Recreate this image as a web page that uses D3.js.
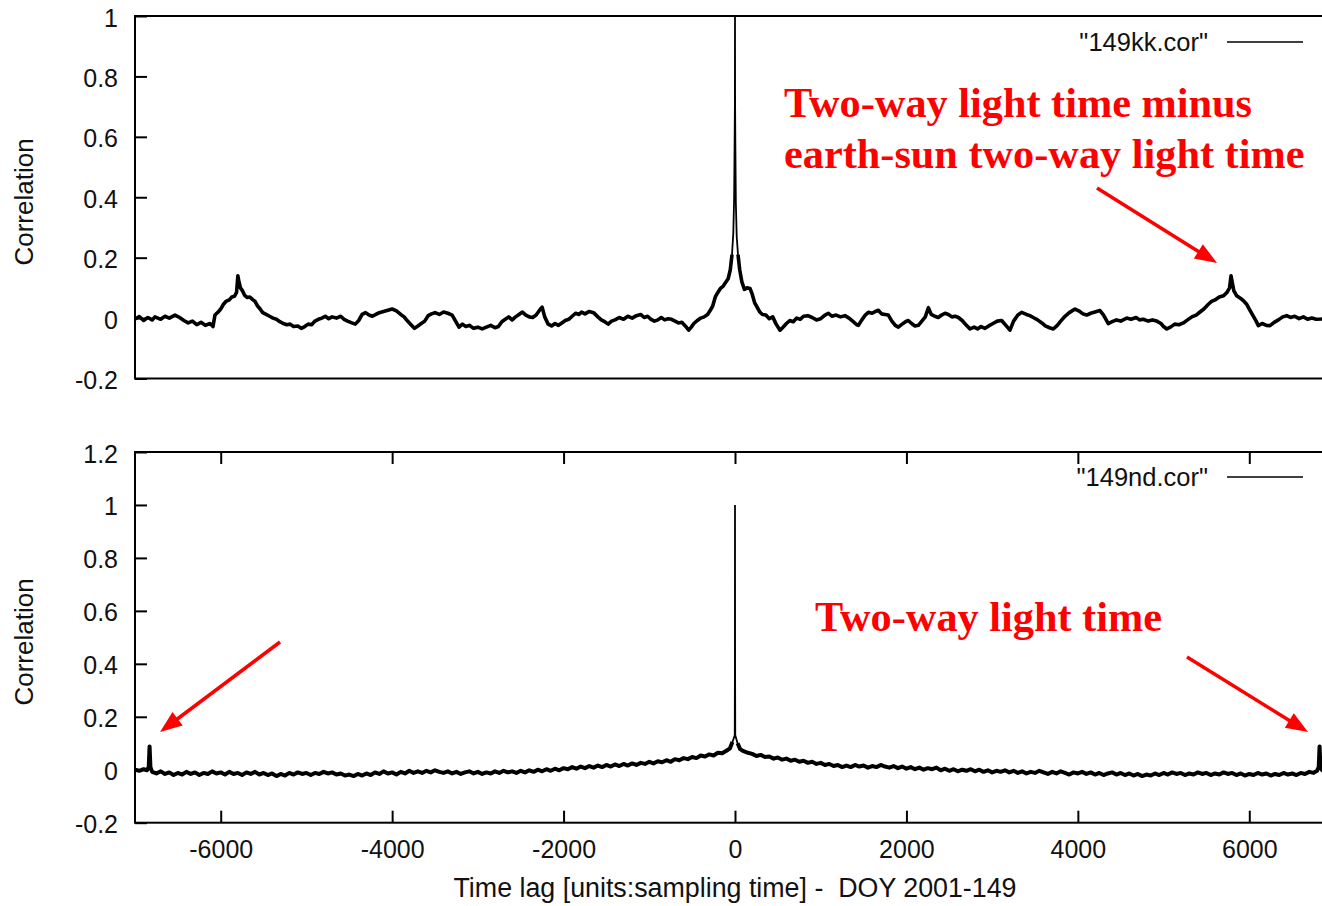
<!DOCTYPE html>
<html><head><meta charset="utf-8">
<script src="https://cdn.jsdelivr.net/npm/d3@7"></script>
<style>body{margin:0;background:#fff;overflow:hidden} svg{display:block}</style>
</head><body><svg id="c" width="1322" height="906"></svg>
<script>
// ---------- data ----------
const lagDomain = [-7000, 7000];
const xTicks = [-6000, -4000, -2000, 0, 2000, 4000, 6000];
const yTicksTop = [-0.2, 0, 0.2, 0.4, 0.6, 0.8, 1];
const yTicksBottom = [-0.2, 0, 0.2, 0.4, 0.6, 0.8, 1, 1.2];
const yDomainTop = [-0.2, 1];
const yDomainBottom = [-0.2, 1.2];
const legendLabels = ['"149kk.cor"', '"149nd.cor"'];
const yLabel = "Correlation";
const xLabel = "Time lag [units:sampling time] -  DOY 2001-149";
const noteTop = ["Two-way light time minus", "earth-sun two-way light time"];
const noteBottom = "Two-way light time";

// [lag, correlation] (149kk.cor)
const series149kk = [
[-7000,-0.003],[-6950,0.005],[-6900,-0.008],[-6850,0.002],[-6800,-0.006],[-6767,0.004],[-6700,-0.004],[-6650,0.006],
[-6600,0.0],[-6533,0.010],[-6480,0.002],[-6430,-0.008],[-6380,-0.016],[-6330,-0.010],[-6280,-0.022],[-6230,-0.014],
[-6180,-0.024],[-6125,-0.018],[-6090,-0.028],[-6067,0.010],[-6030,0.020],[-6000,0.030],[-5970,0.045],[-5940,0.055],
[-5900,0.060],[-5870,0.070],[-5840,0.072],[-5815,0.085],[-5800,0.140],[-5790,0.125],[-5770,0.100],[-5745,0.090],
[-5720,0.075],[-5690,0.068],[-5660,0.070],[-5630,0.062],[-5600,0.055],[-5570,0.040],[-5540,0.030],[-5510,0.018],
[-5470,0.012],[-5430,0.006],[-5390,0.0],[-5350,-0.004],[-5310,-0.012],[-5270,-0.018],[-5230,-0.022],[-5190,-0.020],
[-5150,-0.028],[-5100,-0.026],[-5060,-0.034],[-5020,-0.028],[-4980,-0.020],[-4940,-0.022],[-4900,-0.010],[-4860,-0.004],
[-4820,0.000],[-4780,0.006],[-4740,-0.002],[-4700,0.004],[-4650,0.000],[-4600,0.006],[-4560,-0.004],[-4520,-0.010],
[-4470,-0.016],[-4430,-0.020],[-4390,-0.008],[-4350,0.012],[-4310,0.018],[-4270,0.010],[-4230,0.006],[-4190,0.012],
[-4150,0.018],[-4100,0.022],[-4050,0.026],[-4000,0.030],[-3950,0.024],[-3900,0.012],[-3860,0.004],[-3820,-0.010],
[-3780,-0.022],[-3740,-0.034],[-3700,-0.026],[-3660,-0.018],[-3620,-0.010],[-3580,0.008],[-3540,0.014],[-3500,0.018],
[-3450,0.012],[-3400,0.020],[-3350,0.016],[-3300,0.010],[-3260,-0.010],[-3220,-0.030],[-3180,-0.020],[-3140,-0.028],
[-3100,-0.024],[-3050,-0.034],[-3000,-0.030],[-2950,-0.036],[-2900,-0.030],[-2850,-0.024],[-2800,-0.032],[-2760,-0.028],
[-2720,-0.012],[-2680,-0.004],[-2640,0.004],[-2600,-0.006],[-2560,0.004],[-2520,0.012],[-2480,0.020],[-2440,0.010],
[-2400,0.004],[-2360,0.002],[-2320,0.010],[-2270,0.030],[-2250,0.036],[-2220,0.004],[-2180,-0.020],[-2140,-0.026],
[-2100,-0.018],[-2060,-0.024],[-2020,-0.016],[-1980,-0.008],[-1940,-0.004],[-1900,0.006],[-1860,0.016],[-1820,0.012],
[-1790,0.020],[-1750,0.014],[-1700,0.022],[-1650,0.018],[-1600,0.004],[-1560,-0.006],[-1520,-0.012],[-1480,-0.020],
[-1440,-0.010],[-1400,-0.006],[-1350,0.002],[-1300,-0.004],[-1250,0.006],[-1200,0.000],[-1150,0.008],[-1100,0.012],
[-1060,0.002],[-1020,0.006],[-980,-0.004],[-940,-0.010],[-900,-0.006],[-860,0.002],[-820,-0.006],[-780,-0.002],
[-740,-0.004],[-700,-0.010],[-660,-0.016],[-620,-0.014],[-580,-0.026],[-540,-0.040],[-510,-0.030],[-480,-0.018],
[-440,-0.008],[-400,0.000],[-360,0.004],[-320,0.012],[-290,0.025],[-260,0.040],[-230,0.070],[-200,0.085],
[-170,0.098],[-140,0.105],[-110,0.118],[-80,0.130],[-55,0.160],[-35,0.210],[-20,0.280],[-10,0.400],
[-4,0.600],[-1,0.720],[0,1.0],[1,0.720],[4,0.580],[10,0.380],[20,0.270],[35,0.210],
[55,0.160],[80,0.120],[110,0.095],[140,0.100],[175,0.098],[200,0.080],[230,0.050],[260,0.035],
[290,0.020],[320,0.012],[360,0.010],[400,-0.002],[440,0.004],[480,-0.020],[525,-0.040],[560,-0.030],
[600,-0.018],[640,-0.008],[680,-0.012],[720,0.000],[760,-0.004],[800,0.006],[850,0.008],[900,0.002],
[950,-0.006],[1000,-0.002],[1050,0.010],[1090,0.016],[1130,0.006],[1180,0.010],[1230,0.004],[1283,0.008],
[1330,0.000],[1380,-0.012],[1420,-0.022],[1440,-0.024],[1480,-0.006],[1520,0.010],[1556,0.019],[1600,0.016],
[1640,0.022],[1672,0.026],[1710,0.014],[1750,0.012],[1789,0.010],[1830,-0.010],[1870,-0.024],[1906,-0.030],
[1950,-0.020],[1990,-0.012],[2022,-0.008],[2060,-0.018],[2100,-0.026],[2139,-0.024],[2180,-0.010],[2220,0.004],
[2256,0.034],[2290,0.012],[2330,0.006],[2372,0.002],[2410,0.010],[2450,0.016],[2490,0.012],[2530,0.004],
[2570,0.006],[2606,0.002],[2650,-0.008],[2700,-0.024],[2742,-0.036],[2790,-0.030],[2830,-0.036],[2870,-0.028],
[2917,-0.034],[2960,-0.026],[3010,-0.018],[3060,-0.010],[3111,-0.008],[3160,-0.024],[3208,-0.040],[3250,-0.010],
[3300,0.010],[3344,0.019],[3400,0.012],[3440,0.008],[3480,0.002],[3530,-0.006],[3580,-0.016],[3620,-0.026],
[3670,-0.032],[3714,-0.036],[3760,-0.024],[3800,-0.010],[3850,0.006],[3900,0.018],[3967,0.030],[4010,0.024],
[4060,0.014],[4103,0.010],[4150,0.016],[4200,0.020],[4258,0.025],[4300,0.010],[4355,-0.018],[4400,-0.012],
[4450,-0.006],[4500,-0.010],[4570,0.000],[4620,-0.004],[4680,0.002],[4720,-0.006],[4764,-0.004],[4820,-0.010],
[4870,-0.006],[4920,-0.010],[4970,-0.018],[5000,-0.028],[5037,-0.036],[5080,-0.030],[5130,-0.020],[5180,-0.022],
[5231,-0.016],[5280,-0.006],[5330,0.004],[5380,0.010],[5425,0.020],[5470,0.030],[5520,0.045],[5560,0.055],
[5600,0.060],[5650,0.070],[5700,0.074],[5740,0.085],[5770,0.100],[5787,0.140],[5800,0.120],[5820,0.090],
[5853,0.074],[5900,0.065],[5940,0.055],[5969,0.046],[6000,0.030],[6040,0.010],[6080,-0.010],[6106,-0.025],
[6150,-0.018],[6200,-0.024],[6242,-0.025],[6290,-0.014],[6340,-0.006],[6390,0.004],[6436,0.008],[6480,0.002],
[6530,0.006],[6580,-0.002],[6631,0.004],[6680,-0.004],[6730,0.000],[6780,-0.004],[6845,-0.003],[6900,0.002],
[6950,-0.004],[7000,0.0]
];

// [lag, correlation] (149nd.cor)
const series149nd = [
[-7000,0.000],[-6950,-0.004],[-6900,0.002],[-6860,-0.002],[-6840,0.010],[-6830,0.088],[-6820,0.010],[-6800,-0.008],
[-6750,-0.014],[-6700,-0.006],[-6650,-0.016],[-6600,-0.010],[-6550,-0.020],[-6500,-0.012],[-6450,-0.018],[-6400,-0.008],
[-6350,-0.016],[-6300,-0.010],[-6250,-0.020],[-6200,-0.012],[-6150,-0.016],[-6100,-0.006],[-6050,-0.014],[-6000,-0.010],
[-5950,-0.018],[-5900,-0.008],[-5850,-0.016],[-5800,-0.012],[-5750,-0.020],[-5700,-0.010],[-5650,-0.016],[-5600,-0.008],
[-5550,-0.018],[-5500,-0.012],[-5450,-0.020],[-5400,-0.014],[-5350,-0.024],[-5300,-0.016],[-5250,-0.022],[-5200,-0.012],
[-5150,-0.018],[-5100,-0.010],[-5050,-0.016],[-5000,-0.012],[-4950,-0.020],[-4900,-0.012],[-4850,-0.016],[-4800,-0.008],
[-4750,-0.014],[-4700,-0.010],[-4650,-0.018],[-4600,-0.014],[-4550,-0.022],[-4500,-0.018],[-4450,-0.024],[-4400,-0.016],
[-4350,-0.022],[-4300,-0.014],[-4250,-0.020],[-4200,-0.010],[-4150,-0.016],[-4100,-0.006],[-4050,-0.014],[-4000,-0.010],
[-3950,-0.018],[-3900,-0.008],[-3850,-0.014],[-3800,-0.004],[-3750,-0.012],[-3700,-0.006],[-3650,-0.012],[-3600,-0.004],
[-3550,-0.010],[-3500,-0.002],[-3450,-0.008],[-3400,-0.012],[-3350,-0.006],[-3300,-0.014],[-3250,-0.008],[-3200,-0.016],
[-3150,-0.010],[-3100,-0.006],[-3050,-0.014],[-3000,-0.008],[-2950,-0.016],[-2900,-0.010],[-2850,-0.014],[-2800,-0.006],
[-2750,-0.012],[-2700,-0.004],[-2650,-0.010],[-2600,-0.006],[-2550,-0.012],[-2500,-0.004],[-2450,-0.010],[-2400,-0.002],
[-2350,-0.008],[-2300,0.000],[-2250,-0.006],[-2200,0.002],[-2150,-0.004],[-2100,0.004],[-2050,-0.002],[-2000,0.006],
[-1950,0.002],[-1900,0.010],[-1850,0.004],[-1800,0.012],[-1750,0.006],[-1700,0.014],[-1650,0.008],[-1600,0.016],
[-1550,0.010],[-1500,0.018],[-1450,0.012],[-1400,0.020],[-1350,0.014],[-1300,0.022],[-1250,0.016],[-1200,0.024],
[-1150,0.018],[-1100,0.026],[-1050,0.022],[-1000,0.030],[-950,0.024],[-900,0.032],[-850,0.028],[-800,0.036],
[-750,0.030],[-700,0.040],[-650,0.036],[-600,0.044],[-550,0.040],[-500,0.048],[-450,0.044],[-400,0.054],
[-350,0.050],[-300,0.058],[-250,0.054],[-200,0.064],[-150,0.062],[-100,0.072],[-60,0.080],[-30,0.105],
[-3,0.130],[-1,0.380],[0,1.0],[1,0.380],[3,0.130],[30,0.100],[60,0.078],[100,0.070],
[150,0.064],[200,0.060],[250,0.052],[300,0.056],[350,0.048],[400,0.050],[450,0.042],[500,0.046],
[550,0.038],[600,0.042],[650,0.034],[700,0.038],[750,0.030],[800,0.034],[850,0.026],[900,0.030],
[950,0.022],[1000,0.026],[1050,0.018],[1100,0.022],[1150,0.014],[1200,0.018],[1250,0.010],[1300,0.016],
[1350,0.010],[1400,0.018],[1450,0.012],[1500,0.016],[1550,0.008],[1600,0.014],[1650,0.010],[1700,0.018],
[1750,0.012],[1800,0.008],[1850,0.014],[1900,0.006],[1950,0.012],[2000,0.004],[2050,0.010],[2100,0.002],
[2150,0.008],[2200,0.000],[2250,0.006],[2300,0.002],[2350,0.008],[2400,-0.002],[2450,0.004],[2500,-0.004],
[2550,0.002],[2600,-0.006],[2650,0.000],[2700,-0.004],[2750,0.002],[2800,-0.006],[2850,0.000],[2900,-0.008],
[2950,-0.002],[3000,-0.010],[3050,-0.004],[3100,-0.008],[3150,-0.002],[3200,-0.010],[3250,-0.004],[3300,-0.012],
[3350,-0.006],[3400,-0.014],[3450,-0.008],[3500,-0.012],[3550,-0.004],[3600,-0.010],[3650,-0.016],[3700,-0.008],
[3750,-0.014],[3800,-0.006],[3850,-0.012],[3900,-0.018],[3950,-0.010],[4000,-0.014],[4050,-0.008],[4100,-0.016],
[4150,-0.010],[4200,-0.018],[4250,-0.012],[4300,-0.020],[4350,-0.014],[4400,-0.010],[4450,-0.018],[4500,-0.012],
[4550,-0.020],[4600,-0.014],[4650,-0.022],[4700,-0.016],[4750,-0.024],[4800,-0.018],[4850,-0.022],[4900,-0.014],
[4950,-0.020],[5000,-0.012],[5050,-0.018],[5100,-0.010],[5150,-0.016],[5200,-0.012],[5250,-0.020],[5300,-0.014],
[5350,-0.018],[5400,-0.010],[5450,-0.016],[5500,-0.012],[5550,-0.020],[5600,-0.014],[5650,-0.018],[5700,-0.010],
[5750,-0.016],[5800,-0.012],[5850,-0.020],[5900,-0.014],[5950,-0.022],[6000,-0.016],[6050,-0.020],[6100,-0.012],
[6150,-0.018],[6200,-0.014],[6250,-0.022],[6300,-0.016],[6350,-0.020],[6400,-0.012],[6450,-0.018],[6500,-0.014],
[6550,-0.020],[6600,-0.012],[6650,-0.016],[6700,-0.008],[6750,-0.012],[6790,-0.004],[6810,0.010],[6820,0.088],
[6830,0.010],[6850,-0.002],[6900,0.002],[6950,-0.004],[7000,0.000]
];

// ---------- drawing ----------
const svg = d3.select("#c");
const FONT = "'Liberation Sans', Arial, Helvetica, sans-serif";
const SERIF = "'Liberation Serif', 'Times New Roman', serif";
const left = 135, right = 1335;
const x = d3.scaleLinear().domain(lagDomain).range([left, right]);

const panels = [
  {data: series149kk, yDomain: yDomainTop, yTicks: yTicksTop, top: 16, bottom: 378.5, xTicksShown: false, legend: legendLabels[0], legendY: 42, labelCy: 202, spikeHalf: 30, band: 3.6},
  {data: series149nd, yDomain: yDomainBottom, yTicks: yTicksBottom, top: 452, bottom: 822.7, xTicksShown: true, legend: legendLabels[1], legendY: 477, labelCy: 642, spikeHalf: 25, band: 4}
];

const defs = svg.append("defs");

panels.forEach((p, i) => {
  const y = d3.scaleLinear().domain(p.yDomain).range([p.bottom, p.top]);
  const g = svg.append("g");

  defs.append("clipPath").attr("id", "clip" + i)
    .append("rect").attr("x", left).attr("y", p.top - 1).attr("width", right - left).attr("height", p.bottom - p.top + 2);

  // y axes
  const ya = g.append("g").attr("transform", `translate(${left},0)`)
    .call(d3.axisLeft(y).tickValues(p.yTicks).tickSize(-12).tickPadding(17).tickFormat(d => String(d)));
  ya.select(".domain").remove();
  ya.selectAll(".tick line").attr("stroke", "#000").attr("stroke-width", 2);
  ya.selectAll(".tick text").attr("font-family", FONT).attr("font-size", 25).attr("fill", "#111").attr("dy", "0.4em");

  const yr = g.append("g").attr("transform", `translate(${right},0)`)
    .call(d3.axisRight(y).tickValues(p.yTicks).tickSize(-12).tickFormat(""));
  yr.select(".domain").remove();
  yr.selectAll(".tick line").attr("stroke", "#000").attr("stroke-width", 2);

  if (p.xTicksShown) {
    const xb = g.append("g").attr("transform", `translate(0,${p.bottom})`)
      .call(d3.axisBottom(x).tickValues(xTicks).tickSize(-12).tickPadding(18).tickFormat(d => String(d)));
    xb.select(".domain").remove();
    xb.selectAll(".tick line").attr("stroke", "#000").attr("stroke-width", 2);
    xb.selectAll(".tick text").attr("font-family", FONT).attr("font-size", 25).attr("fill", "#111");
    const xt = g.append("g").attr("transform", `translate(0,${p.top})`)
      .call(d3.axisTop(x).tickValues(xTicks).tickSize(-12).tickFormat(""));
    xt.select(".domain").remove();
    xt.selectAll(".tick line").attr("stroke", "#000").attr("stroke-width", 2);
  }

  // data line: thin full trace + thicker noisy band away from the central spike
  const line = d3.line().x(d => x(d[0])).y(d => y(d[1]));
  const bandLine = d3.line().defined(d => Math.abs(d[0]) >= p.spikeHalf).x(d => x(d[0])).y(d => y(d[1]));
  const dg = g.append("g").attr("clip-path", `url(#clip${i})`);
  dg.append("path").datum(p.data)
    .attr("d", line).attr("fill", "none").attr("stroke", "#000").attr("stroke-width", 1.8);
  dg.append("path").datum(p.data)
    .attr("d", bandLine).attr("fill", "none").attr("stroke", "#000")
    .attr("stroke-width", p.band).attr("stroke-linejoin", "round");

  // frame
  g.append("rect").attr("x", left).attr("y", p.top).attr("width", right - left).attr("height", p.bottom - p.top)
    .attr("fill", "none").attr("stroke", "#000").attr("stroke-width", 2);

  // legend
  g.append("text").attr("x", 1208).attr("y", p.legendY + 8.5).attr("text-anchor", "end")
    .attr("font-family", FONT).attr("font-size", 25.5).attr("fill", "#111").text(p.legend);
  g.append("line").attr("x1", 1227).attr("x2", 1303).attr("y1", p.legendY).attr("y2", p.legendY)
    .attr("stroke", "#000").attr("stroke-width", 1.5);

  // y label
  g.append("text").attr("transform", `translate(33,${p.labelCy}) rotate(-90)`).attr("text-anchor", "middle")
    .attr("font-family", FONT).attr("font-size", 26).attr("fill", "#111").text(yLabel);
});

// x label
svg.append("text").attr("x", 735).attr("y", 897).attr("text-anchor", "middle")
  .attr("font-family", FONT).attr("font-size", 26.8).attr("fill", "#111")
  .style("white-space", "pre").text(xLabel);

// annotations
const RED = "#ff0000";
const noteG = svg.append("g").attr("font-family", SERIF).attr("font-weight", "bold").attr("font-size", 42.3).attr("fill", RED);
noteG.append("text").attr("x", 784).attr("y", 117).text(noteTop[0]);
noteG.append("text").attr("x", 784).attr("y", 168).text(noteTop[1]);
noteG.append("text").attr("x", 815).attr("y", 631).text(noteBottom);

function arrow(x1, y1, x2, y2) {
  const dx = x2 - x1, dy = y2 - y1, L = Math.hypot(dx, dy);
  const ux = dx / L, uy = dy / L, hl = 22, hw = 8.5;
  const bx = x2 - ux * hl, by = y2 - uy * hl;
  svg.append("line").attr("x1", x1).attr("y1", y1).attr("x2", bx + ux * 2).attr("y2", by + uy * 2)
    .attr("stroke", RED).attr("stroke-width", 3.5);
  svg.append("path").attr("d", `M${x2},${y2}L${bx - uy * hw},${by + ux * hw}L${bx + uy * hw},${by - ux * hw}Z`)
    .attr("fill", RED);
}
arrow(1097, 188, 1217, 263);
arrow(280, 642, 160, 732);
arrow(1187, 657, 1308, 732);
</script></body></html>
